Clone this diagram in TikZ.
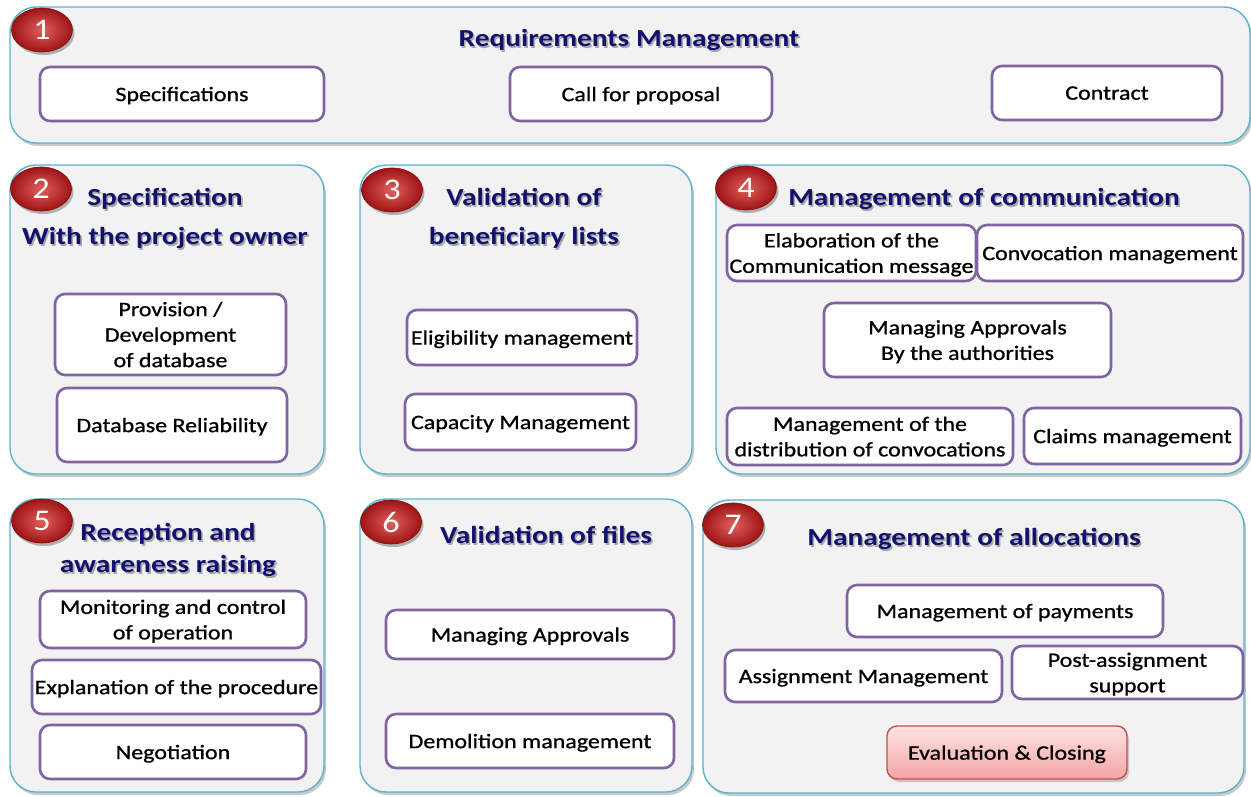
\documentclass[tikz,border=0pt]{standalone}
\usepackage{fontspec}
\setmainfont{Carlito}[FakeStretch=1.14]
\newfontfamily\itemfont{Carlito}[FakeStretch=1.17, FakeBold=0.9]
\newfontfamily\titlefont{Carlito}[FakeStretch=1.2, BoldFont=*, UprightFont=* Bold]
\usetikzlibrary{shapes.geometric,shadows}

\definecolor{panelfill}{HTML}{F2F2F2}
\definecolor{paneledge}{HTML}{5BB3CC}
\definecolor{itemedge}{HTML}{8064A2}
\definecolor{titleblue}{HTML}{12126E}
\definecolor{badgedark}{HTML}{9E1414}
\definecolor{badgelight}{HTML}{E0605C}
\definecolor{closeedge}{HTML}{C0504D}
\definecolor{closetop}{HTML}{FFE3E3}
\definecolor{closebot}{HTML}{F3A4A4}

\tikzset{
  panel/.style={draw=paneledge, line width=1.4pt, fill=panelfill,
    rounded corners=26pt, inner sep=0pt,
    drop shadow={shadow xshift=2pt, shadow yshift=-3pt, opacity=.35, fill=black!60}},
  item/.style={draw=itemedge, line width=2.6pt, fill=white, rounded corners=10pt,
    inner sep=0pt, align=center, text depth=0pt,
    font=\itemfont\fontsize{20.5}{25.5}\selectfont},
  closing/.style={item, draw=closeedge, line width=1.4pt,
    top color=closetop, bottom color=closebot,
    drop shadow={shadow xshift=2pt, shadow yshift=-3pt, opacity=.3, fill=black!60}},
  badge/.style={ellipse, draw=badgedark!80!black, line width=.6pt,
    minimum width=61pt, minimum height=44pt, inner sep=0pt,
    inner color=badgelight, outer color=badgedark,
    text=white, font=\fontsize{30}{30}\selectfont,
    drop shadow={shadow xshift=2pt, shadow yshift=-3pt, opacity=.4, fill=black!70}},
  ttl/.style={text=titleblue, align=center, inner sep=0pt},
  ttlshade/.style={ttl, text=black, opacity=.3},
}

% title text with a soft offset shadow underneath
\newcommand\paneltitle[4][39]{%
  \node[ttlshade, font=\titlefont\fontsize{24.5}{#1}\selectfont] at ([xshift=1.6pt,yshift=-1.6pt]#3) {#4};
  \node[ttl, font=\titlefont\fontsize{24.5}{#1}\selectfont] (#2) at (#3) {#4};}

\begin{document}
\begin{tikzpicture}[x=1pt, y=-1pt]
\useasboundingbox (0,0) rectangle (1251,797);

% ---------- panels ----------
\node[panel, minimum width=1240pt, minimum height=136pt] (p1) at (630,75) {};
\node[panel, minimum width=314pt, minimum height=309pt] (p2) at (167,319.5) {};
\node[panel, minimum width=332pt, minimum height=309pt] (p3) at (526,319.5) {};
\node[panel, minimum width=534pt, minimum height=309pt] (p4) at (983,319.5) {};
\node[panel, minimum width=314pt, minimum height=293pt] (p5) at (167,645.5) {};
\node[panel, minimum width=332pt, minimum height=293pt] (p6) at (526,645.5) {};
\node[panel, minimum width=541pt, minimum height=293pt] (p7) at (973.5,646.5) {};

% ---------- titles ----------
\paneltitle{t1}{629,40}{Requirements Management}
\paneltitle{t2}{165,218.5}{Specification\\With the project owner}
\paneltitle{t3}{524,218.5}{Validation of\\beneficiary lists}
\paneltitle{t4}{984,199}{Management of communication}
\paneltitle[32]{t5}{168,550}{Reception and\\awareness raising}
\paneltitle{t6}{546,535}{Validation of files}
\paneltitle{t7}{974,539}{Management of allocations}

% ---------- badges ----------
\node[badge] (b1) at (42,30) {1};
\node[badge] (b2) at (41,189) {2};
\node[badge] (b3) at (392,190) {3};
\node[badge] (b4) at (746,188) {4};
\node[badge] (b5) at (42,521) {5};
\node[badge] (b6) at (391,522) {6};
\node[badge] (b7) at (733,525) {7};

% ---------- 1: requirements management ----------
\node[item, minimum width=284pt, minimum height=54pt] (spec) at (182,94) {Specifications};
\node[item, minimum width=262pt, minimum height=54pt] (cfp) at (641,94) {Call for proposal};
\node[item, minimum width=230pt, minimum height=54pt] (contract) at (1107,93) {Contract};

% ---------- 2: specification ----------
\node[item, minimum width=231pt, minimum height=81pt] (prov) at (170.5,334.5) {Provision /\\Development\\of database};
\node[item, minimum width=230pt, minimum height=74pt] (dbrel) at (172,425) {Database Reliability};

% ---------- 3: beneficiary lists ----------
\node[item, minimum width=230pt, minimum height=55pt] (elig) at (522,337.5) {Eligibility management};
\node[item, minimum width=231pt, minimum height=56pt] (capa) at (520.5,422) {Capacity Management};

% ---------- 4: communication ----------
\node[item, minimum width=249pt, minimum height=56pt] (elab) at (851.5,253) {Elaboration of the\\Communication message};
\node[item, minimum width=266pt, minimum height=56pt] (convo) at (1110,253) {Convocation management};
\node[item, minimum width=287pt, minimum height=74pt] (authappr) at (967.5,340) {Managing Approvals\\By the authorities};
\node[item, minimum width=286pt, minimum height=57pt] (distrib) at (870,436.5) {Management of the\\distribution of convocations};
\node[item, minimum width=217pt, minimum height=56pt] (claims) at (1132.5,436) {Claims management};

% ---------- 5: reception ----------
\node[item, minimum width=266pt, minimum height=57pt] (monit) at (173,619.5) {Monitoring and control\\of operation};
\node[item, minimum width=289pt, minimum height=54pt] (expl) at (176.5,687) {Explanation of the procedure};
\node[item, minimum width=266pt, minimum height=54pt] (nego) at (173,752) {Negotiation};

% ---------- 6: files ----------
\node[item, minimum width=288pt, minimum height=49pt] (fileappr) at (530,634.5) {Managing Approvals};
\node[item, minimum width=288pt, minimum height=54pt] (demol) at (530,741) {Demolition management};

% ---------- 7: allocations ----------
\node[item, minimum width=316pt, minimum height=52pt] (pay) at (1005,611) {Management of payments};
\node[item, minimum width=277pt, minimum height=52pt] (assign) at (863.5,676) {Assignment Management};
\node[item, minimum width=231pt, minimum height=53pt] (post) at (1127.5,672.5) {Post-assignment\\support};
\node[closing, minimum width=240pt, minimum height=53pt] (close) at (1007,752.5) {Evaluation \& Closing};
\end{tikzpicture}
\end{document}
